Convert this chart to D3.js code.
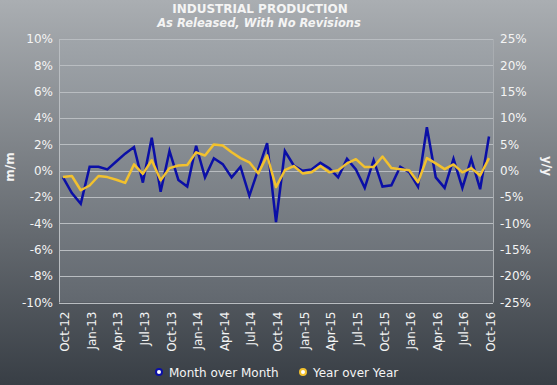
<!DOCTYPE html>
<html>
<head>
<meta charset="utf-8">
<script src="https://cdnjs.cloudflare.com/ajax/libs/d3/7.8.5/d3.min.js"></script>
<style>
  body { margin: 0; padding: 0; }
  svg { display: block; font-family: "DejaVu Sans", Verdana, sans-serif; }
</style>
</head>
<body>
<div id="chart"></div>
<script>
// months Oct-12 .. Oct-16
var months = ['Oct-12','Nov-12','Dec-12','Jan-13','Feb-13','Mar-13','Apr-13','May-13','Jun-13','Jul-13','Aug-13','Sep-13',
  'Oct-13','Nov-13','Dec-13','Jan-14','Feb-14','Mar-14','Apr-14','May-14','Jun-14','Jul-14','Aug-14','Sep-14',
  'Oct-14','Nov-14','Dec-14','Jan-15','Feb-15','Mar-15','Apr-15','May-15','Jun-15','Jul-15','Aug-15','Sep-15',
  'Oct-15','Nov-15','Dec-15','Jan-16','Feb-16','Mar-16','Apr-16','May-16','Jun-16','Jul-16','Aug-16','Sep-16','Oct-16'];

// month over month, % (left axis)
var momValues = [-0.5, -1.7, -2.5, 0.3, 0.3, 0.1, 0.7, 1.3, 1.8, -0.9, 2.5, -1.6,
  1.5, -0.7, -1.2, 1.9, -0.5, 0.95, 0.5, -0.5, 0.3, -1.9, 0.1, 2.1,
  -3.9, 1.5, 0.4, 0, 0.1, 0.6, 0.2, -0.5, 0.9, 0.1, -1.3, 0.8,
  -1.2, -1.1, 0.3, -0.1, -1.2, 3.3, -0.5, -1.3, 0.9, -1.3, 0.9, -1.4, 2.6];

// year over year, % (right axis)
var yoyValues = [-1.2, -1.0, -3.7, -2.8, -1.0, -1.2, -1.7, -2.3, 1.2, -0.6, 2.0, -1.8,
  0.5, 1.0, 1.1, 3.5, 2.9, 5.0, 4.8, 3.5, 2.4, 1.6, -0.5, 2.9,
  -3.1, 0.1, 0.9, -0.5, -0.3, 0.9, -0.3, 0.1, 1.4, 2.2, 0.7, 0.7,
  2.7, 0.5, 0.3, 0.1, -2.2, 2.4, 1.4, 0.3, 1.2, -0.3, 0.5, -0.9, 2.4];

var leftTicks = [10, 8, 6, 4, 2, 0, -2, -4, -6, -8, -10];
var rightTicks = [25, 20, 15, 10, 5, 0, -5, -10, -15, -20, -25];
var seriesNames = ['Month over Month', 'Year over Year'];

var width = 557, height = 385,
  plot = {left: 59, right: 493, top: 39, bottom: 302.5},
  blue = '#0b0fa6', yellow = '#f2c12e', textColor = '#f4f4f4';

var svg = d3.select('#chart').append('svg')
  .attr('width', width)
  .attr('height', height);

var defs = svg.append('defs');
var bg = defs.append('linearGradient').attr('id', 'bg')
  .attr('x1', 0).attr('y1', 0).attr('x2', 0).attr('y2', 1);
bg.append('stop').attr('offset', '0%').attr('stop-color', '#aaaeb2');
bg.append('stop').attr('offset', '100%').attr('stop-color', '#383e45');

var pg = defs.append('linearGradient').attr('id', 'pg')
  .attr('x1', 0).attr('y1', 0).attr('x2', 0).attr('y2', 1);
pg.append('stop').attr('offset', '0%').attr('stop-color', '#a0a5aa');
pg.append('stop').attr('offset', '100%').attr('stop-color', '#62686f');

svg.append('rect')
  .attr('width', width).attr('height', height)
  .attr('fill', 'url(#bg)');

var x = d3.scalePoint()
  .domain(months)
  .range([63, 489]);

var yLeft = d3.scaleLinear()
  .domain([-10, 10])
  .range([plot.bottom, plot.top]);

var yRight = d3.scaleLinear()
  .domain([-25, 25])
  .range([plot.bottom, plot.top]);

svg.append('rect')
  .attr('x', plot.left).attr('y', plot.top)
  .attr('width', plot.right - plot.left)
  .attr('height', plot.bottom - plot.top)
  .attr('fill', 'url(#pg)');

// gridlines
svg.append('g')
  .selectAll('line')
  .data(leftTicks)
  .enter()
  .append('line')
  .attr('x1', plot.left).attr('x2', plot.right)
  .attr('y1', function (d) { return Math.round(yLeft(d)) + 0.5; })
  .attr('y2', function (d) { return Math.round(yLeft(d)) + 0.5; })
  .attr('stroke', '#b9bdc1')
  .attr('stroke-width', 1);

svg.append('line')
  .attr('x1', plot.left + 0.5).attr('x2', plot.left + 0.5)
  .attr('y1', plot.top).attr('y2', plot.bottom)
  .attr('stroke', '#b9bdc1');
svg.append('line')
  .attr('x1', plot.right + 0.5).attr('x2', plot.right + 0.5)
  .attr('y1', plot.top).attr('y2', plot.bottom)
  .attr('stroke', '#a9adb1');

// left axis
var leftAxis = svg.append('g')
  .attr('transform', 'translate(' + (plot.left - 6) + ',0)')
  .call(d3.axisLeft(yLeft).tickValues(leftTicks).tickSize(0)
    .tickFormat(function (d) { return d + '%'; }));
leftAxis.select('.domain').remove();

var rightAxis = svg.append('g')
  .attr('transform', 'translate(' + (plot.right + 7) + ',0)')
  .call(d3.axisRight(yRight).tickValues(rightTicks).tickSize(0)
    .tickFormat(function (d) { return d + '%'; }));
rightAxis.select('.domain').remove();

svg.selectAll('.tick text')
  .attr('fill', textColor)
  .attr('font-size', '12px')
  .attr('font-family', '"DejaVu Sans", Verdana, sans-serif');
leftAxis.selectAll('.tick text').attr('x', 0);
rightAxis.selectAll('.tick text').attr('x', 0);

// x labels, every 3 months
var xTicks = months.filter(function (d, i) { return i % 3 === 0; });
var bottomAxis = svg.append('g')
  .attr('transform', 'translate(0,' + (plot.bottom + 9) + ')')
  .call(d3.axisBottom(x).tickValues(xTicks).tickSize(0));
bottomAxis.select('.domain').remove();
bottomAxis.selectAll('.tick text')
  .attr('fill', textColor)
  .attr('font-size', '12px')
  .attr('font-family', '"DejaVu Sans", Verdana, sans-serif')
  .attr('text-anchor', 'end')
  .attr('dy', null)
  .attr('y', 0)
  .attr('x', 0)
  .attr('transform', 'translate(5.5,0) rotate(-90)');

// axis titles
svg.append('text')
  .attr('transform', 'translate(14,167) rotate(-90)')
  .attr('text-anchor', 'middle')
  .attr('font-size', '12px')
  .attr('font-weight', 'bold')
  .attr('fill', textColor)
  .text('m/m');
svg.append('text')
  .attr('transform', 'translate(543,166) rotate(90)')
  .attr('text-anchor', 'middle')
  .attr('font-size', '12px')
  .attr('font-weight', 'bold')
  .attr('fill', textColor)
  .text('y/y');

// titles
svg.append('text')
  .attr('x', 260).attr('y', 13)
  .attr('text-anchor', 'middle')
  .attr('font-size', '12px')
  .attr('font-weight', 'bold')
  .attr('fill', textColor)
  .text('INDUSTRIAL PRODUCTION');
svg.append('text')
  .attr('x', 259).attr('y', 27)
  .attr('text-anchor', 'middle')
  .attr('font-size', '11.5px')
  .attr('font-weight', 'bold')
  .attr('font-style', 'italic')
  .attr('fill', textColor)
  .text('As Released, With No Revisions');

// lines
var momLine = d3.line()
  .x(function (d, i) { return x(months[i]); })
  .y(function (d) { return yLeft(d); });
var yoyLine = d3.line()
  .x(function (d, i) { return x(months[i]); })
  .y(function (d) { return yRight(d); });

svg.append('path')
  .datum(momValues)
  .attr('d', momLine)
  .attr('fill', 'none')
  .attr('stroke', blue)
  .attr('stroke-width', 2.5)
  .attr('stroke-linejoin', 'miter');

svg.append('path')
  .datum(yoyValues)
  .attr('d', yoyLine)
  .attr('fill', 'none')
  .attr('stroke', yellow)
  .attr('stroke-width', 2.5)
  .attr('stroke-linejoin', 'round');

// legend
var legend = svg.append('g').attr('transform', 'translate(0,372)');
var legendItems = [
  {name: seriesNames[0], color: blue, x: 159},
  {name: seriesNames[1], color: yellow, x: 303}
];
legendItems.forEach(function (item) {
  legend.append('circle')
    .attr('cx', item.x).attr('cy', 0)
    .attr('r', 3)
    .attr('fill', '#ffffff')
    .attr('stroke', item.color)
    .attr('stroke-width', 2);
  legend.append('text')
    .attr('x', item.x + 10).attr('y', 4.5)
    .attr('font-size', '12px')
    .attr('fill', textColor)
    .text(item.name);
});
</script>
</body>
</html>
